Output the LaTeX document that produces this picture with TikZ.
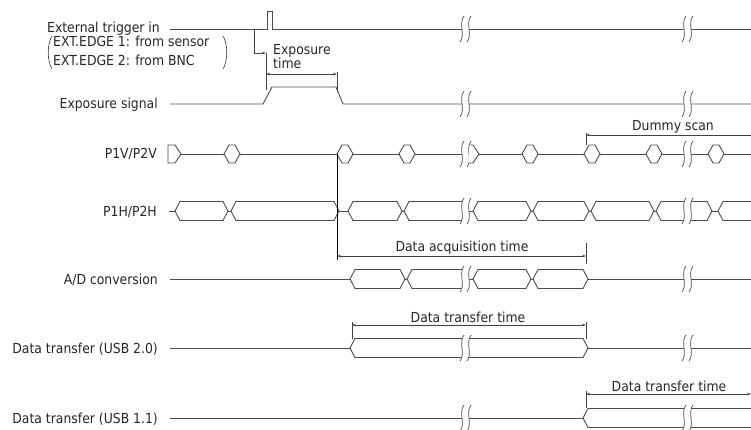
\documentclass[tikz,border=0pt]{standalone}
\usepackage{fontspec}
\setmainfont{DejaVu Sans Condensed}
\usepackage{tikz}
\usetikzlibrary{arrows.meta,positioning,calc}

\tikzset{
  sig/.style={draw=black!70, line width=0.9pt},
  bus/.style={draw=black!70, fill=white, line width=0.9pt},
  dim/.style={draw=black!75, line width=0.7pt},
  dimarr/.style={dim, {Stealth[length=4pt,width=2.6pt]}-{Stealth[length=4pt,width=2.6pt]}},
  lbl/.style={anchor=base east, inner sep=0pt, text=black!85, font=\fontsize{13.8}{16}\selectfont},
  txt/.style={anchor=base west, inner sep=0pt, text=black!85, font=\fontsize{13.8}{16}\selectfont},
  note/.style={anchor=base, inner sep=0pt, text=black!85, font=\fontsize{13.8}{16}\selectfont},
}

% hexagon of the V clock, left point at (#1,#2)
\newcommand{\hexa}[2]{\draw[bus] (#1,#2) -- ++(5,-9) -- ++(6,0) -- ++(5,9) -- ++(-5,9) -- ++(-6,0) -- cycle;}
% bus word from left point #1 to right point #2 on row #3
\newcommand{\word}[3]{\draw[bus] (#1,#3) -- (#1+5,#3-9.5) -- (#2-5,#3-9.5) -- (#2,#3) -- (#2-5,#3+9.5) -- (#1+5,#3+9.5) -- cycle;}
% bus word left point #1, open at #2
\newcommand{\openword}[3]{\draw[bus] (#2,#3-9.5) -- (#1+5,#3-9.5) -- (#1,#3) -- (#1+5,#3+9.5) -- (#2,#3+9.5);}
% time break at #1 on row #2
\newcommand{\brk}[2]{%
  \fill[white] (#1+2,#2-13) .. controls (#1-4,#2-5) and (#1+4,#2+5) .. (#1-2,#2+13)
     -- (#1+5,#2+13) .. controls (#1+11,#2+5) and (#1+3,#2-5) .. (#1+9,#2-13) -- cycle;
  \draw[black!70, line width=0.7pt] (#1+2,#2-13) .. controls (#1-4,#2-5) and (#1+4,#2+5) .. (#1-2,#2+13);
  \draw[black!70, line width=0.7pt] (#1+9,#2-13) .. controls (#1+3,#2-5) and (#1+11,#2+5) .. (#1+5,#2+13);}

\begin{document}
\begin{tikzpicture}[x=1pt,y=-1pt]
    \useasboundingbox (0,0) rectangle (751,430);

    % Row labels
    \node[lbl] (trig) at (160,33) {External trigger in};
    \node[lbl] (expo) at (158,109) {Exposure signal};
    \node[lbl] (pv) at (157,159) {P1V/P2V};
    \node[lbl] (ph) at (157,216) {P1H/P2H};
    \node[lbl] (adc) at (158,284) {A/D conversion};
    \node[lbl] (usbB) at (158,353) {Data transfer (USB 2.0)};
    \node[lbl] (usbA) at (158,423) {Data transfer (USB 1.1)};

    % Trigger source
    \node[txt] (edgeA) at (53,47) {EXT.EDGE 1: from sensor};
    \node[txt] (edgeB) at (53,66) {EXT.EDGE 2: from BNC};
    \draw[black!80, line width=0.6pt] (52,36) .. controls (47,44) and (47,61) .. (52,69);
    \draw[black!80, line width=0.6pt] (223,36) .. controls (228,44) and (228,61) .. (223,69);

    % External trigger
    \draw[sig] (170,29) -- (267,29) -- (267,11) -- (272,11) -- (272,29) -- (751,29);
    \coordinate (trigA) at (254,29);
    \coordinate (trigB) at (254,53);
    \coordinate (expL) at (266,53);
    \draw[dim, -{Stealth[length=4pt,width=2.6pt]}] (trigA) -- (trigB) -- (expL);

    % Exposure time
    \node[txt] (exptA) at (273,55) {Exposure};
    \node[txt] (exptB) at (273,69) {time};
    \coordinate (expR) at (337,72);
    \draw[dim] (expL) -- (266,90);
    \draw[dim] (expR) -- (337,92);
    \draw[dimarr] (266,74) -- (337,74);

    % Exposure signal
    \draw[sig] (170,104) -- (263,104) -- (272,87) -- (336,87) -- (343,104) -- (751,104);

    % P1V/P2V
    \draw[sig] (181,154) -- (751,154);
    \draw[bus] (168,145) -- (175,145) -- (181,154) -- (175,163) -- (168,163) -- cycle;
    \foreach \x in {224,337,399,522,584,646,708} {
        \hexa{\x}{154}
    }

    % P1H/P2H
    \draw[sig] (169,211) -- (751,211);
    \word{175}{228}{211}
    \word{231}{339}{211}
    \word{348}{402}{211}
    \openword{404}{462}{211}
    \word{473}{531}{211}
    \word{533}{589}{211}
    \word{591}{654}{211}
    \word{656}{712}{211}
    \openword{718}{752}{211}

    % A/D conversion
    \draw[sig] (170,279) -- (751,279);
    \word{350}{405}{279}
    \openword{407}{462}{279}
    \word{473}{531}{279}
    \word{533}{588}{279}

    % Data transfer (USB 2.0)
    \draw[sig] (170,348) -- (751,348);
    \word{350}{588}{348}

    % Data transfer (USB 1.1)
    \draw[sig] (170,418) -- (751,418);
    \openword{583}{752}{418}

    % Time breaks
    \foreach \y in {29,104,154,211,279,348,418} {
        \brk{462}{\y}
        \brk{684}{\y}
    }
    \draw[bus] (469,145) -- (473,145) -- (479,154) -- (473,163) -- (469,163);

    % Dummy scan
    \coordinate (dumL) at (586,135);
    \coordinate (dumR) at (751,135);
    \draw[dim] (586,133) -- (586,145);
    \draw[dim, -{Stealth[length=4pt,width=2.6pt]}] (dumR) -- (dumL);
    \node[note] (dummy) at (673,131) {Dummy scan};

    % Data acquisition time
    \coordinate (acqL) at (337,256);
    \coordinate (acqR) at (586,256);
    \draw[black, line width=0.7pt] (337,154) -- (337,260);
    \draw[dim] (586,243) -- (586,264);
    \draw[dimarr] (acqL) -- (acqR);
    \node[note] (acq) at (462,251) {Data acquisition time};

    % Data transfer time (USB 2.0)
    \coordinate (xferBL) at (352,325);
    \coordinate (xferBR) at (586,325);
    \draw[dim] (352,322) -- (352,339);
    \draw[dim] (586,322) -- (586,339);
    \draw[dimarr] (xferBL) -- (xferBR);
    \node[note] (xferB) at (468,322) {Data transfer time};

    % Data transfer time (USB 1.1)
    \coordinate (xferAL) at (586,394);
    \coordinate (xferAR) at (751,394);
    \draw[dim] (586,391) -- (586,408);
    \draw[dimarr] (xferAL) -- (xferAR);
    \node[note] (xferA) at (669,391) {Data transfer time};

\end{tikzpicture}
\end{document}
